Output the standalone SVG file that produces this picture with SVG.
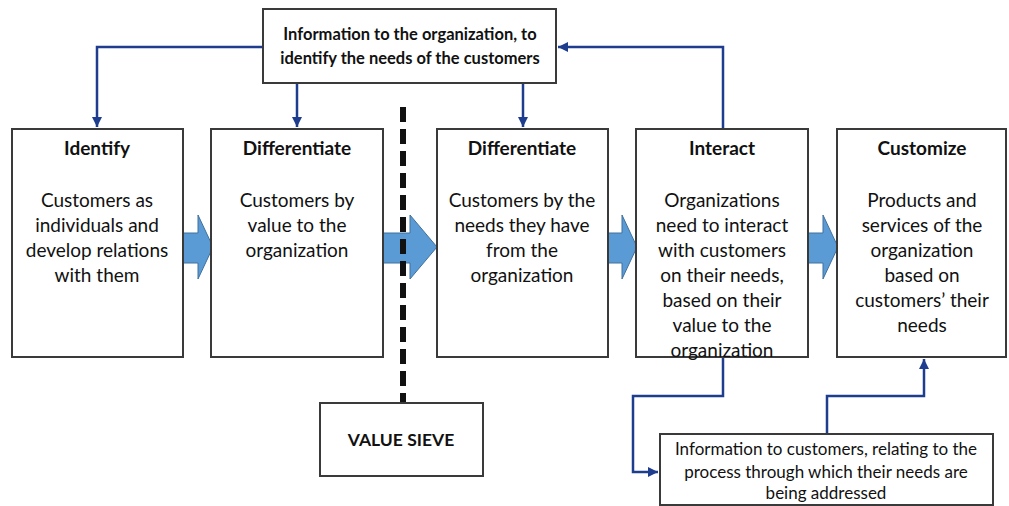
<svg xmlns="http://www.w3.org/2000/svg" width="1009" height="506" viewBox="0 0 1009 506">
<defs>
<style>
.box{fill:#fff;stroke:#3a3a3a;stroke-width:2}
.t{font-family:Lato,"Liberation Sans",sans-serif;fill:#111;text-anchor:middle}
.title{font-size:19px;font-weight:bold}
.body{font-size:19px}
.small{font-size:16.5px;font-weight:bold}
.info{font-size:17px}
.conn{fill:none;stroke:#1f3d8f;stroke-width:2.5}
.blk{fill:#5b9bd5;stroke:#41719c;stroke-width:1}
</style>
<marker id="ah" viewBox="0 0 10 10" refX="10" refY="5" markerWidth="4" markerHeight="4" orient="auto" markerUnits="strokeWidth">
<path d="M0,0 L10,5 L0,10 z" fill="#1f3d8f"/>
</marker>
</defs>
<rect width="1009" height="506" fill="#fff"/>

<g id="connectors">
<path class="conn" d="M263,47 H97 V127" marker-end="url(#ah)"/>
<path class="conn" d="M297,83 V127" marker-end="url(#ah)"/>
<path class="conn" d="M523,83 V127" marker-end="url(#ah)"/>
<path class="conn" d="M723,129 V47 H558" marker-end="url(#ah)"/>
<path class="conn" d="M723,357 V396 H633 V472 H658" marker-end="url(#ah)"/>
<path class="conn" d="M827,434 V396 H924 V359" marker-end="url(#ah)"/>
<polygon class="blk" points="183,233 198,233 198,215 213,247 198,279 198,263 183,263"/>
<polygon class="blk" points="383,233 410,233 410,215 437,247 410,279 410,263 383,263"/>
<polygon class="blk" points="608,233 622,233 622,215 637,247 622,279 622,263 608,263"/>
<polygon class="blk" points="808,233 823,233 823,215 838,247 823,279 823,263 808,263"/>
<line x1="403" y1="107" x2="403" y2="403" stroke="#111" stroke-width="6" stroke-dasharray="15 7"/>
</g>

<g id="top-info">
<rect class="box" x="263" y="9" width="293" height="74"/>
<text class="t small" x="410" y="40">Information to the organization, to</text>
<text class="t small" x="410" y="64">identify the needs of the customers</text>
</g>

<g id="identify">
<rect class="box" x="12" y="129" width="171" height="228"/>
<text class="t title" x="97" y="155">Identify</text>
<text class="t body" x="97" y="207">Customers as</text>
<text class="t body" x="97" y="232">individuals and</text>
<text class="t body" x="97" y="257">develop relations</text>
<text class="t body" x="97" y="282">with them</text>
</g>

<g id="differentiate-value">
<rect class="box" x="211" y="129" width="172" height="228"/>
<text class="t title" x="297" y="155">Differentiate</text>
<text class="t body" x="297" y="207">Customers by</text>
<text class="t body" x="297" y="232">value to the</text>
<text class="t body" x="297" y="257">organization</text>
</g>

<g id="differentiate-needs">
<rect class="box" x="437" y="129" width="171" height="228"/>
<text class="t title" x="522" y="155">Differentiate</text>
<text class="t body" x="522" y="207">Customers by the</text>
<text class="t body" x="522" y="232">needs they have</text>
<text class="t body" x="522" y="257">from the</text>
<text class="t body" x="522" y="282">organization</text>
</g>

<g id="interact">
<rect class="box" x="636" y="129" width="172" height="228"/>
<text class="t title" x="722" y="155">Interact</text>
<text class="t body" x="722" y="207">Organizations</text>
<text class="t body" x="722" y="232">need to interact</text>
<text class="t body" x="722" y="257">with customers</text>
<text class="t body" x="722" y="282">on their needs,</text>
<text class="t body" x="722" y="307">based on their</text>
<text class="t body" x="722" y="332">value to the</text>
<text class="t body" x="722" y="357">organization</text>
</g>

<g id="customize">
<rect class="box" x="837" y="129" width="169" height="228"/>
<text class="t title" x="922" y="155">Customize</text>
<text class="t body" x="922" y="207">Products and</text>
<text class="t body" x="922" y="232">services of the</text>
<text class="t body" x="922" y="257">organization</text>
<text class="t body" x="922" y="282">based on</text>
<text class="t body" x="922" y="307">customers’ their</text>
<text class="t body" x="922" y="332">needs</text>
</g>

<g id="value-sieve">
<rect class="box" x="320" y="403" width="163" height="73"/>
<text class="t small" x="401" y="446" style="font-size:17.5px">VALUE SIEVE</text>
</g>

<g id="bottom-info">
<rect class="box" x="660" y="434" width="333" height="71"/>
<text class="t info" x="826" y="455">Information to customers, relating to the</text>
<text class="t info" x="826" y="478">process through which their needs are</text>
<text class="t info" x="826" y="499">being addressed</text>
</g>
</svg>
